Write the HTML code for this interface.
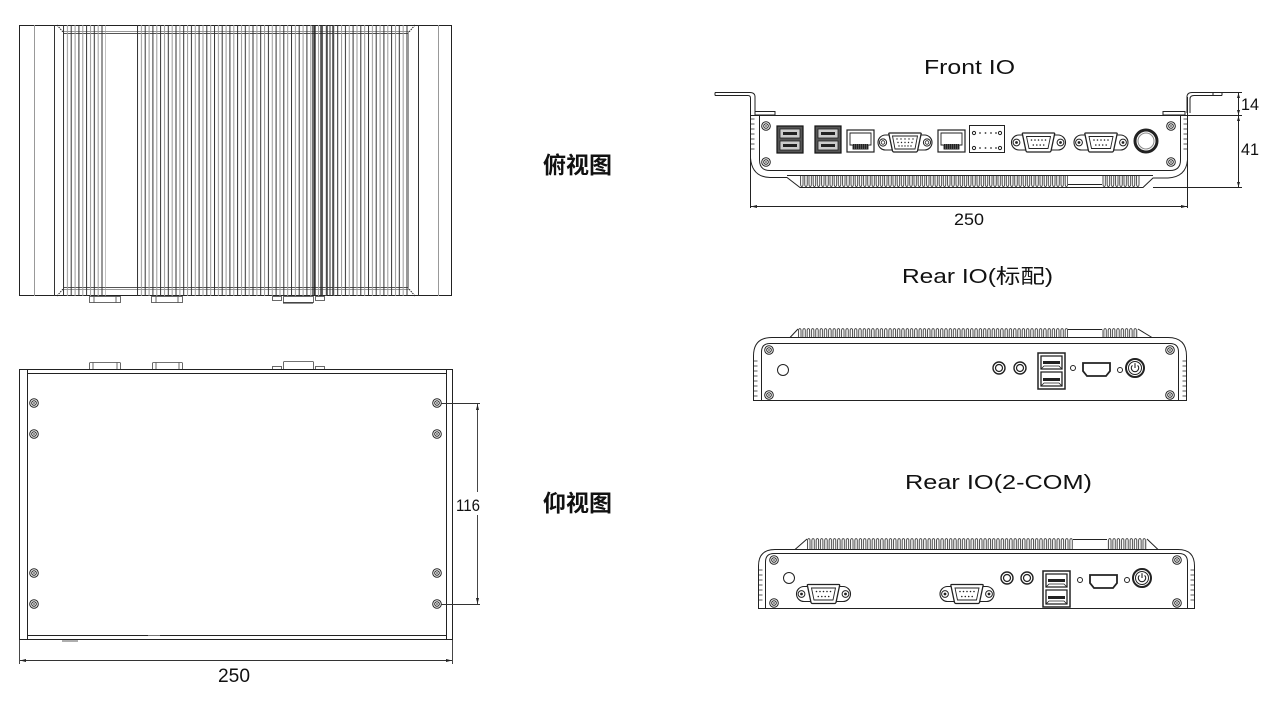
<!DOCTYPE html>
<html><head><meta charset="utf-8"><style>
html,body{margin:0;padding:0;background:#fff;}
svg{display:block;}
text{font-family:"Liberation Sans","Noto Sans CJK SC",sans-serif;fill:#111;}
.cj{font-family:"Noto Sans CJK SC","WenQuanYi Zen Hei",sans-serif;font-weight:bold;}
</style></head><body>
<svg width="1280" height="710" viewBox="0 0 1280 710" xmlns="http://www.w3.org/2000/svg">
<defs>
<pattern id="finL" patternUnits="userSpaceOnUse" x="63" y="25" width="7.7" height="271">
<rect x="0" y="0" width="1" height="271" fill="#333"/><rect x="3.9" y="0" width="1" height="271" fill="#999"/></pattern>
<pattern id="finM" patternUnits="userSpaceOnUse" x="137" y="25" width="7.7" height="271">
<rect x="0" y="0" width="1" height="271" fill="#333"/><rect x="3.9" y="0" width="1" height="271" fill="#999"/></pattern>
<pattern id="finU" patternUnits="userSpaceOnUse" x="800" y="175" width="4.2" height="13">
<path d="M0.6 0 V9 Q0.6 11.5 1.8 11.5 Q3 11.5 3 9 V0" fill="none" stroke="#222" stroke-width="0.8"/></pattern>
<pattern id="finN1" patternUnits="userSpaceOnUse" x="798" y="328" width="4.3" height="10">
<path d="M0.6 10 V2.5 Q0.6 0.6 1.8 0.6 Q3 0.6 3 2.5 V10" fill="none" stroke="#222" stroke-width="0.8"/></pattern>
<pattern id="finN2" patternUnits="userSpaceOnUse" x="807" y="538" width="4.3" height="11">
<path d="M0.6 11 V2.5 Q0.6 0.6 1.8 0.6 Q3 0.6 3 2.5 V11" fill="none" stroke="#222" stroke-width="0.8"/></pattern>
<g id="scr"><circle r="4.3" fill="#fff" stroke="#222" stroke-width="1"/><circle r="2.3" fill="none" stroke="#222" stroke-width="1"/><circle r="0.9" fill="#444"/></g>
<g id="com">
<rect x="-27" y="-7.5" width="54" height="15" rx="7.5" fill="#fff" stroke="#222" stroke-width="1.1"/>
<circle cx="-22" cy="0" r="3.4" fill="none" stroke="#222" stroke-width="1"/><circle cx="-22" cy="0" r="1.4" fill="#222"/>
<circle cx="22" cy="0" r="3.4" fill="none" stroke="#222" stroke-width="1"/><circle cx="22" cy="0" r="1.4" fill="#222"/>
<path d="M-15.5 -9.5 H15.5 Q16.5 -9.5 16 -8 L12.5 8.5 Q12 9.5 11 9.5 H-11 Q-12 9.5 -12.5 8.5 L-16 -8 Q-16.5 -9.5 -15.5 -9.5 Z" fill="#fff" stroke="#222" stroke-width="1.3"/>
<path d="M-12 -6 H12 L9.5 6 H-9.5 Z" fill="none" stroke="#222" stroke-width="0.9"/>
<g fill="#222"><circle cx="-7" cy="-2.5" r="0.8"/><circle cx="-3.5" cy="-2.5" r="0.8"/><circle cx="0" cy="-2.5" r="0.8"/><circle cx="3.5" cy="-2.5" r="0.8"/><circle cx="7" cy="-2.5" r="0.8"/>
<circle cx="-5.2" cy="2.5" r="0.8"/><circle cx="-1.7" cy="2.5" r="0.8"/><circle cx="1.7" cy="2.5" r="0.8"/><circle cx="5.2" cy="2.5" r="0.8"/></g>
</g>
<g id="vga">
<rect x="-27" y="-7.5" width="54" height="15" rx="7.5" fill="#fff" stroke="#222" stroke-width="1.1"/>
<circle cx="-22" cy="0" r="3.6" fill="none" stroke="#222" stroke-width="1"/><circle cx="-22" cy="0" r="1.8" fill="none" stroke="#222" stroke-width="0.8"/>
<circle cx="22" cy="0" r="3.6" fill="none" stroke="#222" stroke-width="1"/><circle cx="22" cy="0" r="1.8" fill="none" stroke="#222" stroke-width="0.8"/>
<path d="M-15.5 -9.5 H15.5 Q16.5 -9.5 16 -8 L12.5 8.5 Q12 9.5 11 9.5 H-11 Q-12 9.5 -12.5 8.5 L-16 -8 Q-16.5 -9.5 -15.5 -9.5 Z" fill="#fff" stroke="#222" stroke-width="1.3"/>
<path d="M-12.5 -6.5 H12.5 L10 6.5 H-10 Z" fill="none" stroke="#222" stroke-width="0.9"/>
<g fill="#222"><circle cx="-8" cy="-3.5" r="0.7"/><circle cx="-4" cy="-3.5" r="0.7"/><circle cx="0" cy="-3.5" r="0.7"/><circle cx="4" cy="-3.5" r="0.7"/><circle cx="8" cy="-3.5" r="0.7"/>
<circle cx="-7" cy="0" r="0.7"/><circle cx="-3.5" cy="0" r="0.7"/><circle cx="0" cy="0" r="0.7"/><circle cx="3.5" cy="0" r="0.7"/><circle cx="7" cy="0" r="0.7"/>
<circle cx="-6" cy="3.5" r="0.7"/><circle cx="-3" cy="3.5" r="0.7"/><circle cx="0" cy="3.5" r="0.7"/><circle cx="3" cy="3.5" r="0.7"/><circle cx="6" cy="3.5" r="0.7"/></g>
</g>
<g id="usbF">
<rect x="0" y="0" width="26" height="27" fill="#555" stroke="#111" stroke-width="1.2"/>
<rect x="3" y="3" width="20" height="9" fill="#ccc" stroke="#222" stroke-width="0.8"/>
<rect x="3" y="15" width="20" height="9" fill="#ccc" stroke="#222" stroke-width="0.8"/>
<rect x="6" y="6" width="14" height="3" fill="#222"/><rect x="6" y="18" width="14" height="3" fill="#222"/>
</g>
<g id="rj">
<rect x="0" y="0" width="27" height="22" fill="#fff" stroke="#222" stroke-width="1.2"/>
<path d="M3 3 H24 V15 H21 V19 H6 V15 H3 Z" fill="none" stroke="#222" stroke-width="0.9"/>
<rect x="6" y="14" width="15" height="5" fill="#222"/>
<path d="M7.5 14 V19 M9.5 14 V19 M11.5 14 V19 M13.5 14 V19 M15.5 14 V19 M17.5 14 V19 M19.5 14 V19" stroke="#888" stroke-width="0.5"/>
</g>
<g id="reario">
<circle cx="0" cy="0" r="6" fill="none" stroke="#222" stroke-width="1.4"/><circle cx="0" cy="0" r="3.5" fill="none" stroke="#222" stroke-width="1.2"/>
</g>
<g id="usbR">
<rect x="0" y="0" width="27" height="36" fill="#fff" stroke="#222" stroke-width="1.5"/>
<path d="M3 3 H24 V16 H3 Z M3 19 H24 V33 H3 Z" fill="none" stroke="#222" stroke-width="1.3"/>
<rect x="5" y="8" width="17" height="3" fill="#222"/><rect x="5" y="25" width="17" height="3" fill="#222"/>
<path d="M3 16 L6 13 H21 L24 16 M3 33 L6 30 H21 L24 33" fill="none" stroke="#222" stroke-width="0.8"/>
</g>
<g id="hdmi"><path d="M0 0 H27 V8 L23 13 H4 L0 8 Z" fill="#fff" stroke="#222" stroke-width="1.8"/></g>
<g id="pwr"><circle r="9" fill="#fff" stroke="#222" stroke-width="2"/><circle r="6.5" fill="none" stroke="#222" stroke-width="1"/>
<path d="M-2.6 -2.6 A3.7 3.7 0 1 0 2.6 -2.6" fill="none" stroke="#222" stroke-width="1.1"/><path d="M0 -4.8 V0" stroke="#222" stroke-width="1.1"/></g>
</defs>

<!-- ================= TOP VIEW ================= -->
<g fill="none" stroke-width="1">
<rect x="19.5" y="25.5" width="432" height="270" stroke="#222"/>
<path d="M34.5 25 V296 M438.5 25 V296" stroke="#999"/>
<path d="M54.5 25 V296 M418.5 25 V296" stroke="#333"/>
<path d="M57 25 L63 32 M57 296 L63 289 M415 25 L409 32 M415 296 L409 289" stroke="#222" stroke-dasharray="1.5 1"/>
<path d="M63 31.5 H409 M63 289.5 H409" stroke="#999"/>
<path d="M63 33.5 H409 M63 287.5 H409" stroke="#555"/>
<path d="M63.5 32 V289 M408.5 32 V289" stroke="#999"/>
</g>
<rect x="63" y="25" width="43" height="271" fill="url(#finL)"/>
<rect x="137" y="25" width="272" height="271" fill="url(#finM)"/>
<path d="M313 25 V296 M315 25 V296 M321 25 V296 M327 25 V296 M333 25 V296" stroke="#222" stroke-width="1.3"/>
<g fill="#fff" stroke="#444" stroke-width="0.8">
<rect x="89.5" y="296.5" width="31" height="6"/><path d="M94 296.5 V302.5 M116 296.5 V302.5" />
<rect x="151.5" y="296.5" width="31" height="6"/><path d="M156 296.5 V302.5 M178 296.5 V302.5"/>
<rect x="272.5" y="296.5" width="9" height="4"/><rect x="315.5" y="296.5" width="9" height="4"/>
<rect x="283.5" y="296.5" width="30" height="6"/>
</g>
<path d="M283 303 H313" stroke="#222" stroke-width="1"/>

<!-- ================= BOTTOM VIEW ================= -->
<g fill="none" stroke="#222" stroke-width="1">
<g fill="#fff" stroke="#444" stroke-width="0.8">
<rect x="89.5" y="362.5" width="31" height="7" rx="1"/><path d="M93 362.5 V369 M117 362.5 V369"/>
<rect x="152.5" y="362.5" width="30" height="7" rx="1"/><path d="M156 362.5 V369 M179 362.5 V369"/>
<rect x="272.5" y="366.5" width="9" height="3"/><rect x="315.5" y="366.5" width="9" height="3"/>
<rect x="283.5" y="361.5" width="30" height="8" rx="1"/>
</g>
<rect x="19.5" y="369.5" width="433" height="270"/>
<path d="M27.5 369 V640 M446.5 369 V640"/>
<path d="M27 373.5 H446 M27 635.5 H446"/>
<path d="M62 641 H78" stroke="#777" stroke-width="1.2"/>
<path d="M148 635.5 H160" stroke="#777" stroke-width="1"/>
</g>
<use href="#scr" x="34" y="403"/><use href="#scr" x="34" y="434"/><use href="#scr" x="34" y="573"/><use href="#scr" x="34" y="604"/>
<use href="#scr" x="437" y="403"/><use href="#scr" x="437" y="434"/><use href="#scr" x="437" y="573"/><use href="#scr" x="437" y="604"/>
<!-- dim 116 -->
<g stroke="#333" stroke-width="0.9" fill="none">
<path d="M441 403.5 H480 M441 604.5 H480"/>
<path d="M477.5 404 V492 M477.5 515 V604"/>
</g>
<path d="M477.5 404 L476 410 H479 Z M477.5 604 L476 598 H479 Z" fill="#222"/>
<text x="456" y="511" font-size="17" textLength="24" lengthAdjust="spacingAndGlyphs" fill="#333">116</text>
<!-- dim 250 bottom -->
<g stroke="#333" stroke-width="0.9" fill="none">
<path d="M19.5 640 V664 M452.5 640 V664 M20 660.5 H452"/>
</g>
<path d="M20 660.5 L26 659 V662 Z M452 660.5 L446 659 V662 Z" fill="#222"/>
<text x="218" y="682" font-size="19" textLength="32" lengthAdjust="spacingAndGlyphs" fill="#333">250</text>

<!-- labels -->
<text class="cj" x="543" y="173" font-size="23" textLength="69" lengthAdjust="spacingAndGlyphs">俯视图</text>
<text class="cj" x="543" y="511" font-size="23" textLength="69" lengthAdjust="spacingAndGlyphs">仰视图</text>

<!-- ================= FRONT IO ================= -->
<text x="924" y="74" font-size="20" textLength="91" lengthAdjust="spacingAndGlyphs">Front IO</text>
<g fill="none" stroke="#222" stroke-width="1">
<path d="M715 92.5 H750 Q755 92.5 755 97 V113"/>
<path d="M715 95.5 H748 Q750.5 95.5 750.5 98 V115"/>
<path d="M715 92.5 V95.5"/>
<rect x="755" y="111.5" width="20" height="3.5"/>
<path d="M1222 92.5 H1192 Q1187 92.5 1187 97 V113"/>
<path d="M1222 95.5 H1194 Q1190 95.5 1190 99 V113"/>
<path d="M1213 92.5 V95.5 M1222 92.5 V95.5"/>
<rect x="1163" y="111.5" width="22" height="3.5"/>
<path d="M750.5 98 V208 M1187.5 97 V208"/>
<path d="M750 115.5 H1242"/>
<path d="M750.5 158 Q752 177 770 177.5 H787 L800 187.5 H1143 L1153 178 H1168 Q1186 177 1187.5 160"/>
<path d="M1153 187.5 H1242"/>
<path d="M1222 92.5 H1242"/>
<path d="M759.5 115 V160 Q759.5 170.5 770 170.5 H1170 Q1180.5 170.5 1180.5 160 V115"/>
<path d="M787 175.5 H1153"/>
<path d="M1068 184.5 H1102"/>
<path d="M750.5 119 h4 m-4 5 h4 m-4 5 h4 m-4 5 h4 m-4 5 h4 m-4 5 h4 m-4 5 h4 M1187.5 119 h-4 m4 5 h-4 m4 5 h-4 m4 5 h-4 m4 5 h-4 m4 5 h-4 m4 5 h-4" stroke-width="0.8"/>
<path d="M1238.5 93 V187"/>
<path d="M751 206.5 H1187"/>
</g>
<rect x="800" y="175" width="268" height="13" fill="url(#finU)"/>
<rect x="1102" y="175" width="38" height="13" fill="url(#finU)"/>
<path d="M751 206.5 L757 205 V208 Z M1187 206.5 L1181 205 V208 Z M1238.5 93 L1237 98 H1240 Z M1238.5 115 L1237 110 H1240 Z M1238.5 116 L1237 121 H1240 Z M1238.5 187 L1237 182 H1240 Z" fill="#222"/>
<text x="954" y="225" font-size="17" textLength="30" lengthAdjust="spacingAndGlyphs" fill="#333">250</text>
<text x="1241" y="110" font-size="17" textLength="18" lengthAdjust="spacingAndGlyphs" fill="#333">14</text>
<text x="1241" y="155" font-size="17" textLength="18" lengthAdjust="spacingAndGlyphs" fill="#333">41</text>
<use href="#scr" x="766" y="126"/><use href="#scr" x="766" y="162"/>
<use href="#scr" x="1171" y="126"/><use href="#scr" x="1171" y="162"/>
<use href="#usbF" x="777" y="126"/>
<use href="#usbF" x="815" y="126"/>
<use href="#rj" x="847" y="130"/>
<use href="#vga" x="905" y="142.5"/>
<use href="#rj" x="938" y="130"/>
<g fill="none" stroke="#222" stroke-width="1">
<rect x="969.5" y="125.5" width="35" height="27"/>
<circle cx="974" cy="133" r="1.6"/><circle cx="1000" cy="133" r="1.6"/>
<circle cx="974" cy="148" r="1.6"/><circle cx="1000" cy="148" r="1.6"/>
</g>
<g fill="#333"><circle cx="980" cy="133" r="0.9"/><circle cx="985.5" cy="133" r="0.9"/><circle cx="991" cy="133" r="0.9"/><circle cx="996" cy="133" r="0.9"/>
<circle cx="980" cy="148" r="0.9"/><circle cx="985.5" cy="148" r="0.9"/><circle cx="991" cy="148" r="0.9"/><circle cx="996" cy="148" r="0.9"/></g>
<use href="#com" x="1038.5" y="142.5"/>
<use href="#com" x="1101" y="142.5"/>
<circle cx="1146" cy="141" r="11" fill="#fff" stroke="#222" stroke-width="3"/>
<circle cx="1146" cy="141" r="8" fill="none" stroke="#888" stroke-width="1"/>

<!-- ================= REAR IO (standard) ================= -->
<text x="902" y="283" font-size="20" textLength="151" lengthAdjust="spacingAndGlyphs">Rear IO(标配)</text>
<g fill="none" stroke="#222" stroke-width="1">
<path d="M753.5 400 V356 Q753.5 337.5 772 337.5 H1168 Q1186.5 337.5 1186.5 356 V400"/>
<path d="M790 337.5 L798 329 M1138 329 L1152 337.5"/>
<path d="M1068 329.5 H1102"/>
<path d="M753 400.5 H1187"/>
<path d="M761.5 400 V352 Q761.5 343.5 770 343.5 H1170 Q1178.5 343.5 1178.5 352 V400"/>
<path d="M753.5 361 h4 m-4 5 h4 m-4 5 h4 m-4 5 h4 m-4 5 h4 m-4 5 h4 m-4 5 h4 m-4 5 h4 M1186.5 361 h-4 m4 5 h-4 m4 5 h-4 m4 5 h-4 m4 5 h-4 m4 5 h-4 m4 5 h-4 m4 5 h-4" stroke-width="0.8"/>
<circle cx="783" cy="370" r="5.5"/>
<circle cx="1073" cy="368" r="2.5"/>
<circle cx="1120" cy="370" r="2.5"/>
</g>
<rect x="798" y="328" width="270" height="10" fill="url(#finN1)"/>
<rect x="1102" y="328" width="36" height="10" fill="url(#finN1)"/>
<use href="#scr" x="769" y="350"/><use href="#scr" x="769" y="395"/>
<use href="#scr" x="1170" y="350"/><use href="#scr" x="1170" y="395"/>
<use href="#reario" x="999" y="368"/><use href="#reario" x="1020" y="368"/>
<use href="#usbR" x="1038" y="353"/>
<use href="#hdmi" x="1083" y="363"/>
<use href="#pwr" x="1135" y="368"/>

<!-- ================= REAR IO (2-COM) ================= -->
<text x="905" y="489" font-size="20" textLength="187" lengthAdjust="spacingAndGlyphs">Rear IO(2-COM)</text>
<g fill="none" stroke="#222" stroke-width="1">
<path d="M758.5 608 V566 Q758.5 549.5 775 549.5 H1178 Q1194.5 549.5 1194.5 566 V608"/>
<path d="M795 549.5 L807 539 M1147 539 L1158 549.5"/>
<path d="M1073 539.5 H1107"/>
<path d="M758 608.5 H1195"/>
<path d="M765.5 608 V562 Q765.5 553.5 774 553.5 H1179 Q1187.5 553.5 1187.5 562 V608"/>
<path d="M758.5 570 h4 m-4 5 h4 m-4 5 h4 m-4 5 h4 m-4 5 h4 m-4 5 h4 m-4 5 h4 M1194.5 570 h-4 m4 5 h-4 m4 5 h-4 m4 5 h-4 m4 5 h-4 m4 5 h-4 m4 5 h-4" stroke-width="0.8"/>
<circle cx="789" cy="578" r="5.5"/>
<circle cx="1080" cy="580" r="2.5"/>
<circle cx="1127" cy="580" r="2.5"/>
</g>
<rect x="807" y="538" width="266" height="11" fill="url(#finN2)"/>
<rect x="1107" y="538" width="40" height="11" fill="url(#finN2)"/>
<use href="#scr" x="774" y="560"/><use href="#scr" x="774" y="603"/>
<use href="#scr" x="1177" y="560"/><use href="#scr" x="1177" y="603"/>
<use href="#com" x="823.5" y="594"/>
<use href="#com" x="967" y="594"/>
<use href="#reario" x="1007" y="578"/><use href="#reario" x="1027" y="578"/>
<use href="#usbR" x="1043" y="571"/>
<use href="#hdmi" x="1090" y="575"/>
<use href="#pwr" x="1142" y="578"/>
</svg>
</body></html>
